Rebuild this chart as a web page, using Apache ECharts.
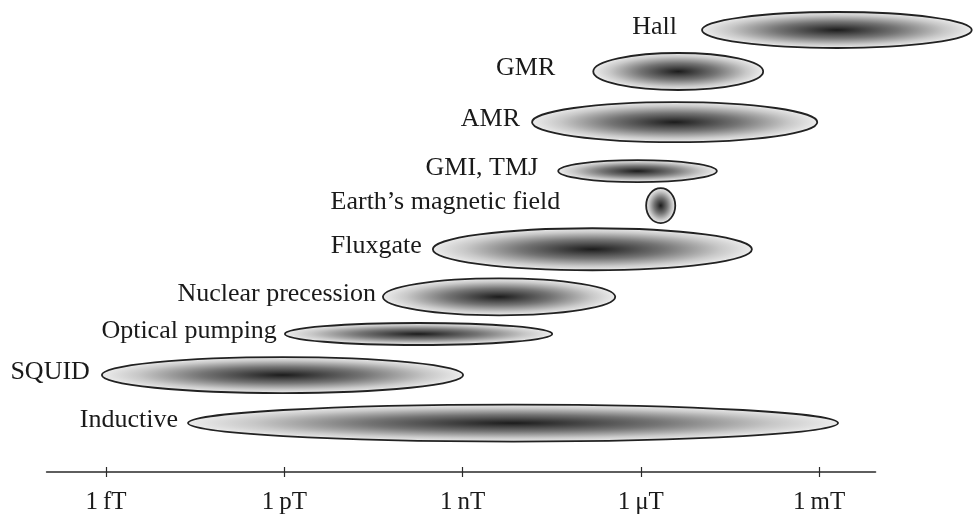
<!DOCTYPE html>
<html>
<head>
<meta charset="utf-8">
<script src="https://cdn.jsdelivr.net/npm/echarts@6/dist/echarts.min.js"></script>
<style>html,body{margin:0;padding:0;background:#fff}#c{width:973px;height:520px}</style>
</head>
<body>
<div id="c"></div>
<script>
// ---- data (log10 of field in tesla) ----
const sensors = ['Hall', 'GMR', 'AMR', 'GMI, TMJ', 'Earth\u2019s magnetic field', 'Fluxgate', 'Nuclear precession', 'Optical pumping', 'SQUID', 'Inductive'];
const rangeLow  = [-4.97, -6.80, -7.83, -7.39, -5.91, -9.50, -10.34, -11.99, -15.07, -13.62];
const rangeHigh = [-0.43, -3.94, -3.03, -4.72, -5.42, -4.13, -6.43, -7.49, -8.99, -2.68];
const rowLevel  = [0, 0.95, 2.11, 3.23, 4.02, 5.02, 6.11, 6.96, 7.90, 9.0];
const tickValues = [-15, -12, -9, -6, -3];
const tickLabels = ['1\u2009fT', '1\u2009pT', '1\u2009nT', '1\u2009\u03bcT', '1\u2009mT'];

// ---- styling ----
const ellipseHeight = [36, 37, 40, 22, 35, 42, 37, 22, 36, 37];
const labelGap = [25, 38, 12, 20, 86, 11, 7, 8, 12, 10];
const serif = '"Liberation Serif", "DejaVu Serif", serif';

const chart = echarts.init(document.getElementById('c'), null, {renderer: 'canvas'});
const data = sensors.map((s, i) => [rangeLow[i], rangeHigh[i], rowLevel[i]]);

chart.setOption({
  animation: false,
  backgroundColor: '#fff',
  grid: {left: 46.6, right: 97.5, top: 30, bottom: 48},
  xAxis: [{
    type: 'value', min: -16, max: -2.05, position: 'bottom',
    splitLine: {show: false},
    axisLine: {show: true, onZero: false, lineStyle: {color: '#2a2a2a', width: 1.6}},
    axisTick: {show: true, length: 5, customValues: tickValues, lineStyle: {color: '#2a2a2a', width: 1.2}},
    axisLabel: {
      show: true, customValues: tickValues, margin: 18,
      fontFamily: serif, fontSize: 25, color: '#1a1a1a',
      formatter: v => { const k = tickValues.indexOf(Math.round(v)); return k >= 0 ? tickLabels[k] : ''; }
    }
  }, {
    type: 'value', min: -16, max: -2.05, position: 'bottom', offset: 0,
    splitLine: {show: false},
    axisLine: {show: false, onZero: false},
    axisTick: {show: true, inside: true, length: 5, customValues: tickValues, lineStyle: {color: '#2a2a2a', width: 1.2}},
    axisLabel: {show: false}
  }],
  yAxis: {
    type: 'value', min: 0, max: 10.12, inverse: true, show: false
  },
  series: [{
    type: 'custom',
    clip: false,
    xAxisIndex: 0,
    data: data,
    renderItem: function (params, api) {
      const i = params.dataIndex;
      const p0 = api.coord([api.value(0), api.value(2)]);
      const p1 = api.coord([api.value(1), api.value(2)]);
      const cx = (p0[0] + p1[0]) / 2, cy = p0[1];
      const rx = (p1[0] - p0[0]) / 2, ry = ellipseHeight[i] / 2;
      const outline = 'M' + (cx - rx) + ' ' + cy +
        ' A' + rx + ' ' + ry + ' 0 1 0 ' + (cx + rx) + ' ' + cy +
        ' A' + rx + ' ' + ry + ' 0 1 0 ' + (cx - rx) + ' ' + cy + ' Z';
      return {
        type: 'group',
        children: [{
          type: 'circle',
          x: cx, y: cy, scaleX: 1, scaleY: ry / rx,
          shape: {cx: 0, cy: 0, r: rx},
          style: {
            fill: new echarts.graphic.RadialGradient(0.5, 0.5, 0.5, [
              {offset: 0, color: '#1c1c1c'},
              {offset: 0.45, color: '#747474'},
              {offset: 0.8, color: '#c8c8c8'},
              {offset: 1, color: '#ececec'}
            ]),
            stroke: null
          }
        }, {
          type: 'path',
          shape: {pathData: outline},
          style: {fill: null, stroke: '#222222', lineWidth: 1.8}
        }, {
          type: 'text',
          x: p0[0] - labelGap[i], y: cy - 3,
          style: {
            text: sensors[i], font: '26px ' + serif, fill: '#1a1a1a',
            align: 'right', verticalAlign: 'middle'
          }
        }]
      };
    }
  }]
});
</script>
</body>
</html>
